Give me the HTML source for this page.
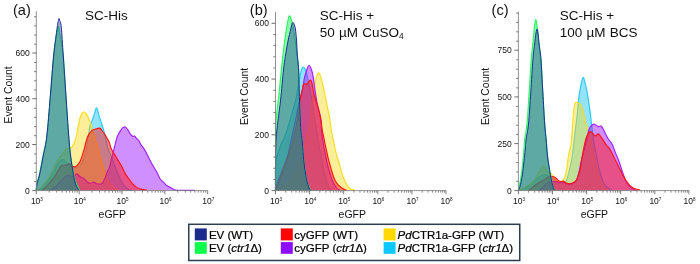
<!DOCTYPE html>
<html><head><meta charset="utf-8"><title>Flow cytometry eGFP histograms</title>
<style>html,body{margin:0;padding:0;background:#fff;}body{width:700px;height:264px;overflow:hidden;}svg{display:block;will-change:transform;}text{font-family:"Liberation Sans",sans-serif;}</style>
</head><body>
<svg width="700" height="264" viewBox="0 0 700 264">
<rect x="0" y="0" width="700" height="264" fill="#ffffff"/>
<g id="panelA">
<path d="M39.00,190.00C39.67,189.53 41.52,188.65 43.00,187.20C44.48,185.75 46.27,183.43 47.90,181.30C49.53,179.17 51.33,177.02 52.80,174.40C54.27,171.78 55.38,167.88 56.70,165.60C58.02,163.32 59.55,161.68 60.70,160.70C61.85,159.72 62.62,159.38 63.60,159.70C64.58,160.02 65.62,161.62 66.60,162.60C67.58,163.58 68.60,164.87 69.50,165.60C70.40,166.33 70.92,166.60 72.00,167.00C73.08,167.40 74.67,168.17 76.00,168.00C77.33,167.83 78.67,167.67 80.00,166.00C81.33,164.33 82.92,161.00 84.00,158.00C85.08,155.00 85.75,151.83 86.50,148.00C87.25,144.17 87.92,138.83 88.50,135.00C89.08,131.17 89.53,127.07 90.00,125.00C90.47,122.93 90.67,124.17 91.30,122.60C91.93,121.03 93.10,117.70 93.80,115.60C94.50,113.50 95.05,111.28 95.50,110.00C95.95,108.72 96.17,107.90 96.50,107.90C96.83,107.90 97.08,108.72 97.50,110.00C97.92,111.28 98.47,113.80 99.00,115.60C99.53,117.40 99.73,117.67 100.70,120.80C101.67,123.93 103.58,129.82 104.80,134.40C106.02,138.98 106.97,144.77 108.00,148.30C109.03,151.83 109.79,152.48 111.00,155.60C112.21,158.72 113.85,163.35 115.25,167.00C116.65,170.65 118.01,174.53 119.40,177.50C120.79,180.47 122.03,182.78 123.60,184.80C125.17,186.82 127.40,188.73 128.80,189.60C130.20,190.47 131.47,189.93 132.00,190.00L132.00,190.60 L39.00,190.60 Z" fill="#28c8f5" fill-opacity="0.50" stroke="none"/>
<path d="M39.00,190.00C39.67,189.53 41.52,188.65 43.00,187.20C44.48,185.75 46.27,183.43 47.90,181.30C49.53,179.17 51.33,177.02 52.80,174.40C54.27,171.78 55.38,167.88 56.70,165.60C58.02,163.32 59.55,161.68 60.70,160.70C61.85,159.72 62.62,159.38 63.60,159.70C64.58,160.02 65.62,161.62 66.60,162.60C67.58,163.58 68.60,164.87 69.50,165.60C70.40,166.33 70.92,166.60 72.00,167.00C73.08,167.40 74.67,168.17 76.00,168.00C77.33,167.83 78.67,167.67 80.00,166.00C81.33,164.33 82.92,161.00 84.00,158.00C85.08,155.00 85.75,151.83 86.50,148.00C87.25,144.17 87.92,138.83 88.50,135.00C89.08,131.17 89.53,127.07 90.00,125.00C90.47,122.93 90.67,124.17 91.30,122.60C91.93,121.03 93.10,117.70 93.80,115.60C94.50,113.50 95.05,111.28 95.50,110.00C95.95,108.72 96.17,107.90 96.50,107.90C96.83,107.90 97.08,108.72 97.50,110.00C97.92,111.28 98.47,113.80 99.00,115.60C99.53,117.40 99.73,117.67 100.70,120.80C101.67,123.93 103.58,129.82 104.80,134.40C106.02,138.98 106.97,144.77 108.00,148.30C109.03,151.83 109.79,152.48 111.00,155.60C112.21,158.72 113.85,163.35 115.25,167.00C116.65,170.65 118.01,174.53 119.40,177.50C120.79,180.47 122.03,182.78 123.60,184.80C125.17,186.82 127.40,188.73 128.80,189.60C130.20,190.47 131.47,189.93 132.00,190.00" fill="none" stroke="#28c8f5" stroke-width="1.15" stroke-linejoin="round" stroke-opacity="1"/>
<path d="M38.00,190.00C38.67,189.38 40.35,188.07 42.00,186.30C43.65,184.53 46.27,181.70 47.90,179.40C49.53,177.10 50.50,175.13 51.80,172.50C53.10,169.87 54.38,166.07 55.70,163.60C57.02,161.13 58.38,159.60 59.70,157.70C61.02,155.80 62.45,153.67 63.60,152.20C64.75,150.73 65.62,149.62 66.60,148.90C67.58,148.18 68.77,148.12 69.50,147.90C70.23,147.68 70.32,148.22 71.00,147.60C71.68,146.98 72.78,145.77 73.60,144.20C74.42,142.63 75.27,140.47 75.90,138.20C76.53,135.93 76.90,133.13 77.40,130.60C77.90,128.07 78.30,125.60 78.90,123.00C79.50,120.40 80.27,116.83 81.00,115.00C81.73,113.17 82.47,112.25 83.30,112.00C84.13,111.75 85.13,112.50 86.00,113.50C86.87,114.50 87.53,115.65 88.50,118.00C89.47,120.35 90.88,124.77 91.80,127.60C92.72,130.43 93.23,132.48 94.00,135.00C94.77,137.52 95.63,140.15 96.40,142.70C97.17,145.25 97.88,147.62 98.60,150.30C99.32,152.98 99.83,155.60 100.70,158.75C101.57,161.90 102.77,166.07 103.80,169.20C104.83,172.32 105.70,174.90 106.90,177.50C108.10,180.10 109.61,182.88 111.00,184.80C112.39,186.72 114.08,188.13 115.25,189.00C116.42,189.87 117.54,189.83 118.00,190.00L118.00,190.60 L38.00,190.60 Z" fill="#fadc1e" fill-opacity="0.45" stroke="none"/>
<path d="M38.00,190.00C38.67,189.38 40.35,188.07 42.00,186.30C43.65,184.53 46.27,181.70 47.90,179.40C49.53,177.10 50.50,175.13 51.80,172.50C53.10,169.87 54.38,166.07 55.70,163.60C57.02,161.13 58.38,159.60 59.70,157.70C61.02,155.80 62.45,153.67 63.60,152.20C64.75,150.73 65.62,149.62 66.60,148.90C67.58,148.18 68.77,148.12 69.50,147.90C70.23,147.68 70.32,148.22 71.00,147.60C71.68,146.98 72.78,145.77 73.60,144.20C74.42,142.63 75.27,140.47 75.90,138.20C76.53,135.93 76.90,133.13 77.40,130.60C77.90,128.07 78.30,125.60 78.90,123.00C79.50,120.40 80.27,116.83 81.00,115.00C81.73,113.17 82.47,112.25 83.30,112.00C84.13,111.75 85.13,112.50 86.00,113.50C86.87,114.50 87.53,115.65 88.50,118.00C89.47,120.35 90.88,124.77 91.80,127.60C92.72,130.43 93.23,132.48 94.00,135.00C94.77,137.52 95.63,140.15 96.40,142.70C97.17,145.25 97.88,147.62 98.60,150.30C99.32,152.98 99.83,155.60 100.70,158.75C101.57,161.90 102.77,166.07 103.80,169.20C104.83,172.32 105.70,174.90 106.90,177.50C108.10,180.10 109.61,182.88 111.00,184.80C112.39,186.72 114.08,188.13 115.25,189.00C116.42,189.87 117.54,189.83 118.00,190.00" fill="none" stroke="#fadc1e" stroke-width="1.15" stroke-linejoin="round" stroke-opacity="1"/>
<path d="M50.00,190.00C50.80,189.53 53.35,188.32 54.80,187.20C56.25,186.08 57.40,184.60 58.70,183.30C60.00,182.00 61.45,180.55 62.60,179.40C63.75,178.25 64.62,177.07 65.60,176.40C66.58,175.73 67.52,175.37 68.50,175.40C69.48,175.43 70.58,176.43 71.50,176.60C72.42,176.77 73.10,176.85 74.00,176.40C74.90,175.95 75.93,173.90 76.90,173.90C77.87,173.90 78.65,175.65 79.80,176.40C80.95,177.15 82.48,177.42 83.80,178.40C85.12,179.38 86.55,181.48 87.70,182.30C88.85,183.12 89.72,183.35 90.70,183.30C91.68,183.25 92.62,181.93 93.60,182.00C94.58,182.07 95.28,183.42 96.60,183.70C97.92,183.98 100.20,184.42 101.50,183.70C102.80,182.98 103.42,181.43 104.40,179.40C105.38,177.37 106.57,173.47 107.40,171.50C108.23,169.53 108.80,169.38 109.40,167.60C110.00,165.82 110.20,164.02 111.00,160.80C111.80,157.58 113.15,152.35 114.20,148.30C115.25,144.25 116.08,139.68 117.30,136.50C118.52,133.32 120.47,130.72 121.50,129.20C122.53,127.68 122.90,127.78 123.50,127.40C124.10,127.02 124.40,126.53 125.10,126.90C125.80,127.27 126.83,128.43 127.70,129.60C128.57,130.77 129.43,132.77 130.30,133.90C131.17,135.03 132.18,136.05 132.90,136.40C133.62,136.75 134.02,135.68 134.60,136.00C135.18,136.32 135.67,137.48 136.40,138.30C137.13,139.12 138.28,139.88 139.00,140.90C139.72,141.92 139.97,143.23 140.70,144.40C141.43,145.57 142.52,146.60 143.40,147.90C144.28,149.20 145.13,150.60 146.00,152.20C146.87,153.80 147.72,155.75 148.60,157.50C149.48,159.25 149.90,160.18 151.30,162.70C152.70,165.22 155.55,169.93 157.00,172.60C158.45,175.27 158.93,177.10 160.00,178.70C161.07,180.30 162.25,181.03 163.40,182.20C164.55,183.37 165.73,184.82 166.90,185.70C168.07,186.58 169.23,186.87 170.40,187.50C171.57,188.13 172.63,189.05 173.90,189.50C175.17,189.95 174.48,190.05 178.00,190.20C181.52,190.35 192.17,190.37 195.00,190.40L195.00,190.60 L50.00,190.60 Z" fill="#a020ff" fill-opacity="0.50" stroke="none"/>
<path d="M50.00,190.00C50.80,189.53 53.35,188.32 54.80,187.20C56.25,186.08 57.40,184.60 58.70,183.30C60.00,182.00 61.45,180.55 62.60,179.40C63.75,178.25 64.62,177.07 65.60,176.40C66.58,175.73 67.52,175.37 68.50,175.40C69.48,175.43 70.58,176.43 71.50,176.60C72.42,176.77 73.10,176.85 74.00,176.40C74.90,175.95 75.93,173.90 76.90,173.90C77.87,173.90 78.65,175.65 79.80,176.40C80.95,177.15 82.48,177.42 83.80,178.40C85.12,179.38 86.55,181.48 87.70,182.30C88.85,183.12 89.72,183.35 90.70,183.30C91.68,183.25 92.62,181.93 93.60,182.00C94.58,182.07 95.28,183.42 96.60,183.70C97.92,183.98 100.20,184.42 101.50,183.70C102.80,182.98 103.42,181.43 104.40,179.40C105.38,177.37 106.57,173.47 107.40,171.50C108.23,169.53 108.80,169.38 109.40,167.60C110.00,165.82 110.20,164.02 111.00,160.80C111.80,157.58 113.15,152.35 114.20,148.30C115.25,144.25 116.08,139.68 117.30,136.50C118.52,133.32 120.47,130.72 121.50,129.20C122.53,127.68 122.90,127.78 123.50,127.40C124.10,127.02 124.40,126.53 125.10,126.90C125.80,127.27 126.83,128.43 127.70,129.60C128.57,130.77 129.43,132.77 130.30,133.90C131.17,135.03 132.18,136.05 132.90,136.40C133.62,136.75 134.02,135.68 134.60,136.00C135.18,136.32 135.67,137.48 136.40,138.30C137.13,139.12 138.28,139.88 139.00,140.90C139.72,141.92 139.97,143.23 140.70,144.40C141.43,145.57 142.52,146.60 143.40,147.90C144.28,149.20 145.13,150.60 146.00,152.20C146.87,153.80 147.72,155.75 148.60,157.50C149.48,159.25 149.90,160.18 151.30,162.70C152.70,165.22 155.55,169.93 157.00,172.60C158.45,175.27 158.93,177.10 160.00,178.70C161.07,180.30 162.25,181.03 163.40,182.20C164.55,183.37 165.73,184.82 166.90,185.70C168.07,186.58 169.23,186.87 170.40,187.50C171.57,188.13 172.63,189.05 173.90,189.50C175.17,189.95 174.48,190.05 178.00,190.20C181.52,190.35 192.17,190.37 195.00,190.40" fill="none" stroke="#a020ff" stroke-width="1.15" stroke-linejoin="round" stroke-opacity="1"/>
<path d="M42.00,190.00C42.65,189.53 44.43,188.65 45.90,187.20C47.37,185.75 49.32,183.10 50.80,181.30C52.28,179.50 53.48,178.37 54.80,176.40C56.12,174.43 57.55,171.30 58.70,169.50C59.85,167.70 60.72,166.32 61.70,165.60C62.68,164.88 63.62,165.37 64.60,165.20C65.58,165.03 66.78,164.87 67.60,164.60C68.42,164.33 68.85,163.43 69.50,163.60C70.15,163.77 70.55,165.07 71.50,165.60C72.45,166.13 74.05,167.07 75.20,166.80C76.35,166.53 77.50,165.08 78.40,164.00C79.30,162.92 79.87,162.00 80.60,160.30C81.33,158.60 82.13,155.92 82.80,153.80C83.47,151.68 83.97,149.95 84.60,147.60C85.23,145.25 85.90,141.90 86.60,139.70C87.30,137.50 87.93,135.92 88.80,134.40C89.67,132.88 90.67,131.50 91.80,130.60C92.93,129.70 94.30,129.42 95.60,129.00C96.90,128.58 98.53,127.85 99.60,128.10C100.67,128.35 101.13,129.45 102.00,130.50C102.87,131.55 103.63,132.53 104.80,134.40C105.97,136.27 107.97,139.38 109.00,141.70C110.03,144.02 109.96,145.98 111.00,148.30C112.04,150.62 113.50,152.65 115.25,155.60C117.00,158.55 119.76,162.87 121.50,166.00C123.24,169.13 124.13,171.78 125.70,174.40C127.27,177.02 129.18,179.62 130.90,181.70C132.62,183.78 134.10,185.58 136.00,186.90C137.90,188.22 140.47,189.08 142.30,189.60C144.13,190.12 146.22,189.93 147.00,190.00L147.00,190.60 L42.00,190.60 Z" fill="#ff1414" fill-opacity="0.50" stroke="none"/>
<path d="M42.00,190.00C42.65,189.53 44.43,188.65 45.90,187.20C47.37,185.75 49.32,183.10 50.80,181.30C52.28,179.50 53.48,178.37 54.80,176.40C56.12,174.43 57.55,171.30 58.70,169.50C59.85,167.70 60.72,166.32 61.70,165.60C62.68,164.88 63.62,165.37 64.60,165.20C65.58,165.03 66.78,164.87 67.60,164.60C68.42,164.33 68.85,163.43 69.50,163.60C70.15,163.77 70.55,165.07 71.50,165.60C72.45,166.13 74.05,167.07 75.20,166.80C76.35,166.53 77.50,165.08 78.40,164.00C79.30,162.92 79.87,162.00 80.60,160.30C81.33,158.60 82.13,155.92 82.80,153.80C83.47,151.68 83.97,149.95 84.60,147.60C85.23,145.25 85.90,141.90 86.60,139.70C87.30,137.50 87.93,135.92 88.80,134.40C89.67,132.88 90.67,131.50 91.80,130.60C92.93,129.70 94.30,129.42 95.60,129.00C96.90,128.58 98.53,127.85 99.60,128.10C100.67,128.35 101.13,129.45 102.00,130.50C102.87,131.55 103.63,132.53 104.80,134.40C105.97,136.27 107.97,139.38 109.00,141.70C110.03,144.02 109.96,145.98 111.00,148.30C112.04,150.62 113.50,152.65 115.25,155.60C117.00,158.55 119.76,162.87 121.50,166.00C123.24,169.13 124.13,171.78 125.70,174.40C127.27,177.02 129.18,179.62 130.90,181.70C132.62,183.78 134.10,185.58 136.00,186.90C137.90,188.22 140.47,189.08 142.30,189.60C144.13,190.12 146.22,189.93 147.00,190.00" fill="none" stroke="#ff1414" stroke-width="1.15" stroke-linejoin="round" stroke-opacity="1"/>
<path d="M36.30,190.00C36.42,188.83 36.47,185.67 37.00,183.00C37.53,180.33 38.43,178.83 39.50,174.00C40.57,169.17 42.15,160.33 43.40,154.00C44.65,147.67 45.82,145.67 47.00,136.00C48.18,126.33 49.40,109.33 50.50,96.00C51.60,82.67 52.60,66.17 53.60,56.00C54.60,45.83 55.72,40.00 56.50,35.00C57.28,30.00 57.72,26.00 58.30,26.00C58.88,26.00 59.17,30.00 60.00,35.00C60.83,40.00 62.33,45.83 63.30,56.00C64.27,66.17 64.92,82.67 65.80,96.00C66.68,109.33 67.82,126.17 68.60,136.00C69.38,145.83 69.63,148.50 70.50,155.00C71.37,161.50 72.80,170.17 73.80,175.00C74.80,179.83 75.55,181.50 76.50,184.00C77.45,186.50 79.00,189.00 79.50,190.00L79.50,190.60 L36.30,190.60 Z" fill="#2bf562" fill-opacity="0.54" stroke="none"/>
<path d="M36.30,190.00C36.42,188.83 36.47,185.67 37.00,183.00C37.53,180.33 38.43,178.83 39.50,174.00C40.57,169.17 42.15,160.33 43.40,154.00C44.65,147.67 45.82,145.67 47.00,136.00C48.18,126.33 49.40,109.33 50.50,96.00C51.60,82.67 52.60,66.17 53.60,56.00C54.60,45.83 55.72,40.00 56.50,35.00C57.28,30.00 57.72,26.00 58.30,26.00C58.88,26.00 59.17,30.00 60.00,35.00C60.83,40.00 62.33,45.83 63.30,56.00C64.27,66.17 64.92,82.67 65.80,96.00C66.68,109.33 67.82,126.17 68.60,136.00C69.38,145.83 69.63,148.50 70.50,155.00C71.37,161.50 72.80,170.17 73.80,175.00C74.80,179.83 75.55,181.50 76.50,184.00C77.45,186.50 79.00,189.00 79.50,190.00" fill="none" stroke="#2bf562" stroke-width="1.15" stroke-linejoin="round" stroke-opacity="1"/>
<path d="M36.30,190.00C36.42,189.00 36.47,186.50 37.00,184.00C37.53,181.50 38.43,179.83 39.50,175.00C40.57,170.17 42.18,161.50 43.40,155.00C44.62,148.50 45.65,145.83 46.80,136.00C47.95,126.17 49.17,109.33 50.30,96.00C51.43,82.67 52.45,67.43 53.60,56.00C54.75,44.57 56.40,33.32 57.20,27.40C58.00,21.48 58.10,22.00 58.40,20.50C58.70,19.00 58.78,18.40 59.00,18.40C59.22,18.40 59.32,19.00 59.70,20.50C60.08,22.00 60.70,21.48 61.30,27.40C61.90,33.32 62.52,44.57 63.30,56.00C64.08,67.43 65.09,82.67 66.00,96.00C66.91,109.33 68.00,126.17 68.75,136.00C69.50,145.83 69.69,148.43 70.50,155.00C71.31,161.57 72.68,170.40 73.60,175.40C74.52,180.40 75.13,182.57 76.00,185.00C76.87,187.43 78.33,189.17 78.80,190.00L78.80,190.60 L36.30,190.60 Z" fill="#1c2f9a" fill-opacity="0.40" stroke="none"/>
<path d="M36.30,190.00C36.42,189.00 36.47,186.50 37.00,184.00C37.53,181.50 38.43,179.83 39.50,175.00C40.57,170.17 42.18,161.50 43.40,155.00C44.62,148.50 45.65,145.83 46.80,136.00C47.95,126.17 49.17,109.33 50.30,96.00C51.43,82.67 52.45,67.43 53.60,56.00C54.75,44.57 56.40,33.32 57.20,27.40C58.00,21.48 58.10,22.00 58.40,20.50C58.70,19.00 58.78,18.40 59.00,18.40C59.22,18.40 59.32,19.00 59.70,20.50C60.08,22.00 60.70,21.48 61.30,27.40C61.90,33.32 62.52,44.57 63.30,56.00C64.08,67.43 65.09,82.67 66.00,96.00C66.91,109.33 68.00,126.17 68.75,136.00C69.50,145.83 69.69,148.43 70.50,155.00C71.31,161.57 72.68,170.40 73.60,175.40C74.52,180.40 75.13,182.57 76.00,185.00C76.87,187.43 78.33,189.17 78.80,190.00" fill="none" stroke="#1c2f9a" stroke-width="1.0" stroke-linejoin="round" stroke-opacity="1"/>
<line x1="36.30" y1="11.20" x2="36.30" y2="191.10" stroke="#808080" stroke-width="0.85"/>
<line x1="35.80" y1="190.60" x2="207.70" y2="190.60" stroke="#808080" stroke-width="0.85"/>
<line x1="32.30" y1="190.60" x2="36.30" y2="190.60" stroke="#6e6e6e" stroke-width="1"/>
<text x="29.70" y="193.65" font-size="8.5" text-anchor="end" fill="#111">0</text>
<line x1="32.30" y1="144.50" x2="36.30" y2="144.50" stroke="#6e6e6e" stroke-width="1"/>
<text x="29.70" y="147.55" font-size="8.5" text-anchor="end" fill="#111">200</text>
<line x1="32.30" y1="98.70" x2="36.30" y2="98.70" stroke="#6e6e6e" stroke-width="1"/>
<text x="29.70" y="101.75" font-size="8.5" text-anchor="end" fill="#111">400</text>
<line x1="32.30" y1="53.00" x2="36.30" y2="53.00" stroke="#6e6e6e" stroke-width="1"/>
<text x="29.70" y="56.05" font-size="8.5" text-anchor="end" fill="#111">600</text>
<line x1="34.10" y1="181.45" x2="36.30" y2="181.45" stroke="#6e6e6e" stroke-width="0.9"/>
<line x1="34.10" y1="172.30" x2="36.30" y2="172.30" stroke="#6e6e6e" stroke-width="0.9"/>
<line x1="34.10" y1="163.15" x2="36.30" y2="163.15" stroke="#6e6e6e" stroke-width="0.9"/>
<line x1="34.10" y1="154.00" x2="36.30" y2="154.00" stroke="#6e6e6e" stroke-width="0.9"/>
<line x1="34.10" y1="135.70" x2="36.30" y2="135.70" stroke="#6e6e6e" stroke-width="0.9"/>
<line x1="34.10" y1="126.55" x2="36.30" y2="126.55" stroke="#6e6e6e" stroke-width="0.9"/>
<line x1="34.10" y1="117.40" x2="36.30" y2="117.40" stroke="#6e6e6e" stroke-width="0.9"/>
<line x1="34.10" y1="108.25" x2="36.30" y2="108.25" stroke="#6e6e6e" stroke-width="0.9"/>
<line x1="34.10" y1="89.95" x2="36.30" y2="89.95" stroke="#6e6e6e" stroke-width="0.9"/>
<line x1="34.10" y1="80.80" x2="36.30" y2="80.80" stroke="#6e6e6e" stroke-width="0.9"/>
<line x1="34.10" y1="71.65" x2="36.30" y2="71.65" stroke="#6e6e6e" stroke-width="0.9"/>
<line x1="34.10" y1="62.50" x2="36.30" y2="62.50" stroke="#6e6e6e" stroke-width="0.9"/>
<line x1="34.10" y1="44.20" x2="36.30" y2="44.20" stroke="#6e6e6e" stroke-width="0.9"/>
<line x1="34.10" y1="35.05" x2="36.30" y2="35.05" stroke="#6e6e6e" stroke-width="0.9"/>
<line x1="34.10" y1="25.90" x2="36.30" y2="25.90" stroke="#6e6e6e" stroke-width="0.9"/>
<line x1="34.10" y1="16.75" x2="36.30" y2="16.75" stroke="#6e6e6e" stroke-width="0.9"/>
<line x1="36.30" y1="190.60" x2="36.30" y2="194.30" stroke="#6e6e6e" stroke-width="0.9"/>
<text x="36.90" y="204.15" font-size="8.5" text-anchor="middle" fill="#111">10<tspan font-size="4.6" dy="-3.6">3</tspan></text>
<line x1="49.20" y1="190.60" x2="49.20" y2="192.70" stroke="#6e6e6e" stroke-width="0.8"/>
<line x1="56.74" y1="190.60" x2="56.74" y2="192.70" stroke="#6e6e6e" stroke-width="0.8"/>
<line x1="62.10" y1="190.60" x2="62.10" y2="192.70" stroke="#6e6e6e" stroke-width="0.8"/>
<line x1="66.25" y1="190.60" x2="66.25" y2="192.70" stroke="#6e6e6e" stroke-width="0.8"/>
<line x1="69.64" y1="190.60" x2="69.64" y2="192.70" stroke="#6e6e6e" stroke-width="0.8"/>
<line x1="72.51" y1="190.60" x2="72.51" y2="192.70" stroke="#6e6e6e" stroke-width="0.8"/>
<line x1="75.00" y1="190.60" x2="75.00" y2="192.70" stroke="#6e6e6e" stroke-width="0.8"/>
<line x1="77.19" y1="190.60" x2="77.19" y2="192.70" stroke="#6e6e6e" stroke-width="0.8"/>
<line x1="79.15" y1="190.60" x2="79.15" y2="194.30" stroke="#6e6e6e" stroke-width="0.9"/>
<text x="79.75" y="204.15" font-size="8.5" text-anchor="middle" fill="#111">10<tspan font-size="4.6" dy="-3.6">4</tspan></text>
<line x1="92.05" y1="190.60" x2="92.05" y2="192.70" stroke="#6e6e6e" stroke-width="0.8"/>
<line x1="99.59" y1="190.60" x2="99.59" y2="192.70" stroke="#6e6e6e" stroke-width="0.8"/>
<line x1="104.95" y1="190.60" x2="104.95" y2="192.70" stroke="#6e6e6e" stroke-width="0.8"/>
<line x1="109.10" y1="190.60" x2="109.10" y2="192.70" stroke="#6e6e6e" stroke-width="0.8"/>
<line x1="112.49" y1="190.60" x2="112.49" y2="192.70" stroke="#6e6e6e" stroke-width="0.8"/>
<line x1="115.36" y1="190.60" x2="115.36" y2="192.70" stroke="#6e6e6e" stroke-width="0.8"/>
<line x1="117.85" y1="190.60" x2="117.85" y2="192.70" stroke="#6e6e6e" stroke-width="0.8"/>
<line x1="120.04" y1="190.60" x2="120.04" y2="192.70" stroke="#6e6e6e" stroke-width="0.8"/>
<line x1="122.00" y1="190.60" x2="122.00" y2="194.30" stroke="#6e6e6e" stroke-width="0.9"/>
<text x="122.60" y="204.15" font-size="8.5" text-anchor="middle" fill="#111">10<tspan font-size="4.6" dy="-3.6">5</tspan></text>
<line x1="134.90" y1="190.60" x2="134.90" y2="192.70" stroke="#6e6e6e" stroke-width="0.8"/>
<line x1="142.44" y1="190.60" x2="142.44" y2="192.70" stroke="#6e6e6e" stroke-width="0.8"/>
<line x1="147.80" y1="190.60" x2="147.80" y2="192.70" stroke="#6e6e6e" stroke-width="0.8"/>
<line x1="151.95" y1="190.60" x2="151.95" y2="192.70" stroke="#6e6e6e" stroke-width="0.8"/>
<line x1="155.34" y1="190.60" x2="155.34" y2="192.70" stroke="#6e6e6e" stroke-width="0.8"/>
<line x1="158.21" y1="190.60" x2="158.21" y2="192.70" stroke="#6e6e6e" stroke-width="0.8"/>
<line x1="160.70" y1="190.60" x2="160.70" y2="192.70" stroke="#6e6e6e" stroke-width="0.8"/>
<line x1="162.89" y1="190.60" x2="162.89" y2="192.70" stroke="#6e6e6e" stroke-width="0.8"/>
<line x1="164.85" y1="190.60" x2="164.85" y2="194.30" stroke="#6e6e6e" stroke-width="0.9"/>
<text x="165.45" y="204.15" font-size="8.5" text-anchor="middle" fill="#111">10<tspan font-size="4.6" dy="-3.6">6</tspan></text>
<line x1="177.75" y1="190.60" x2="177.75" y2="192.70" stroke="#6e6e6e" stroke-width="0.8"/>
<line x1="185.29" y1="190.60" x2="185.29" y2="192.70" stroke="#6e6e6e" stroke-width="0.8"/>
<line x1="190.65" y1="190.60" x2="190.65" y2="192.70" stroke="#6e6e6e" stroke-width="0.8"/>
<line x1="194.80" y1="190.60" x2="194.80" y2="192.70" stroke="#6e6e6e" stroke-width="0.8"/>
<line x1="198.19" y1="190.60" x2="198.19" y2="192.70" stroke="#6e6e6e" stroke-width="0.8"/>
<line x1="201.06" y1="190.60" x2="201.06" y2="192.70" stroke="#6e6e6e" stroke-width="0.8"/>
<line x1="203.55" y1="190.60" x2="203.55" y2="192.70" stroke="#6e6e6e" stroke-width="0.8"/>
<line x1="205.74" y1="190.60" x2="205.74" y2="192.70" stroke="#6e6e6e" stroke-width="0.8"/>
<line x1="207.70" y1="190.60" x2="207.70" y2="194.30" stroke="#6e6e6e" stroke-width="0.9"/>
<text x="208.30" y="204.15" font-size="8.5" text-anchor="middle" fill="#111">10<tspan font-size="4.6" dy="-3.6">7</tspan></text>
</g>
<g id="panelB">
<path d="M275.50,190.00C275.50,186.33 275.42,172.92 275.50,168.00C275.58,163.08 275.48,163.25 276.00,160.50C276.52,157.75 277.70,154.33 278.60,151.50C279.50,148.67 280.42,145.83 281.40,143.50C282.38,141.17 283.28,140.65 284.50,137.50C285.72,134.35 287.47,128.63 288.70,124.60C289.93,120.57 290.73,117.40 291.90,113.30C293.07,109.20 294.52,105.28 295.70,100.00C296.88,94.72 298.03,86.68 299.00,81.60C299.97,76.52 300.77,71.92 301.50,69.50C302.23,67.08 302.73,67.02 303.40,67.10C304.07,67.18 304.73,67.85 305.50,70.00C306.27,72.15 307.08,75.83 308.00,80.00C308.92,84.17 310.00,89.17 311.00,95.00C312.00,100.83 313.08,109.17 314.00,115.00C314.92,120.83 315.77,125.50 316.50,130.00C317.23,134.50 317.48,136.75 318.40,142.00C319.32,147.25 320.78,155.43 322.00,161.50C323.22,167.57 324.48,173.98 325.70,178.40C326.92,182.82 328.25,185.98 329.30,188.00C330.35,190.02 331.55,190.08 332.00,190.50L332.00,190.60 L275.50,190.60 Z" fill="#28c8f5" fill-opacity="0.50" stroke="none"/>
<path d="M275.50,190.00C275.50,186.33 275.42,172.92 275.50,168.00C275.58,163.08 275.48,163.25 276.00,160.50C276.52,157.75 277.70,154.33 278.60,151.50C279.50,148.67 280.42,145.83 281.40,143.50C282.38,141.17 283.28,140.65 284.50,137.50C285.72,134.35 287.47,128.63 288.70,124.60C289.93,120.57 290.73,117.40 291.90,113.30C293.07,109.20 294.52,105.28 295.70,100.00C296.88,94.72 298.03,86.68 299.00,81.60C299.97,76.52 300.77,71.92 301.50,69.50C302.23,67.08 302.73,67.02 303.40,67.10C304.07,67.18 304.73,67.85 305.50,70.00C306.27,72.15 307.08,75.83 308.00,80.00C308.92,84.17 310.00,89.17 311.00,95.00C312.00,100.83 313.08,109.17 314.00,115.00C314.92,120.83 315.77,125.50 316.50,130.00C317.23,134.50 317.48,136.75 318.40,142.00C319.32,147.25 320.78,155.43 322.00,161.50C323.22,167.57 324.48,173.98 325.70,178.40C326.92,182.82 328.25,185.98 329.30,188.00C330.35,190.02 331.55,190.08 332.00,190.50" fill="none" stroke="#28c8f5" stroke-width="1.15" stroke-linejoin="round" stroke-opacity="1"/>
<path d="M278.00,190.00C278.83,189.50 281.00,188.67 283.00,187.00C285.00,185.33 287.67,183.17 290.00,180.00C292.33,176.83 295.00,172.17 297.00,168.00C299.00,163.83 300.50,159.67 302.00,155.00C303.50,150.33 304.80,144.50 306.00,140.00C307.20,135.50 308.33,133.00 309.20,128.00C310.07,123.00 310.48,116.00 311.20,110.00C311.92,104.00 312.87,96.33 313.50,92.00C314.13,87.67 314.52,86.47 315.00,84.00C315.48,81.53 315.93,78.87 316.40,77.20C316.87,75.53 317.35,74.67 317.80,74.00C318.25,73.33 318.48,72.33 319.10,73.20C319.72,74.07 320.48,75.37 321.50,79.20C322.52,83.03 324.10,90.95 325.20,96.20C326.30,101.45 327.33,106.90 328.10,110.70C328.87,114.50 329.27,115.78 329.80,119.00C330.33,122.22 330.70,126.38 331.30,130.00C331.90,133.62 332.83,137.87 333.40,140.70C333.97,143.53 334.17,144.62 334.70,147.00C335.23,149.38 336.02,152.83 336.60,155.00C337.18,157.17 337.55,157.80 338.20,160.00C338.85,162.20 339.78,165.70 340.50,168.20C341.22,170.70 341.72,172.73 342.50,175.00C343.28,177.27 344.28,179.87 345.20,181.80C346.12,183.73 346.97,185.35 348.00,186.60C349.03,187.85 350.27,188.68 351.40,189.30C352.53,189.92 354.23,190.13 354.80,190.30L354.80,190.60 L278.00,190.60 Z" fill="#fadc1e" fill-opacity="0.45" stroke="none"/>
<path d="M278.00,190.00C278.83,189.50 281.00,188.67 283.00,187.00C285.00,185.33 287.67,183.17 290.00,180.00C292.33,176.83 295.00,172.17 297.00,168.00C299.00,163.83 300.50,159.67 302.00,155.00C303.50,150.33 304.80,144.50 306.00,140.00C307.20,135.50 308.33,133.00 309.20,128.00C310.07,123.00 310.48,116.00 311.20,110.00C311.92,104.00 312.87,96.33 313.50,92.00C314.13,87.67 314.52,86.47 315.00,84.00C315.48,81.53 315.93,78.87 316.40,77.20C316.87,75.53 317.35,74.67 317.80,74.00C318.25,73.33 318.48,72.33 319.10,73.20C319.72,74.07 320.48,75.37 321.50,79.20C322.52,83.03 324.10,90.95 325.20,96.20C326.30,101.45 327.33,106.90 328.10,110.70C328.87,114.50 329.27,115.78 329.80,119.00C330.33,122.22 330.70,126.38 331.30,130.00C331.90,133.62 332.83,137.87 333.40,140.70C333.97,143.53 334.17,144.62 334.70,147.00C335.23,149.38 336.02,152.83 336.60,155.00C337.18,157.17 337.55,157.80 338.20,160.00C338.85,162.20 339.78,165.70 340.50,168.20C341.22,170.70 341.72,172.73 342.50,175.00C343.28,177.27 344.28,179.87 345.20,181.80C346.12,183.73 346.97,185.35 348.00,186.60C349.03,187.85 350.27,188.68 351.40,189.30C352.53,189.92 354.23,190.13 354.80,190.30" fill="none" stroke="#fadc1e" stroke-width="1.15" stroke-linejoin="round" stroke-opacity="1"/>
<path d="M275.50,190.00C275.50,189.50 275.33,187.83 275.50,187.00C275.67,186.17 275.75,186.83 276.50,185.00C277.25,183.17 278.75,179.17 280.00,176.00C281.25,172.83 282.73,169.33 284.00,166.00C285.27,162.67 286.52,159.83 287.60,156.00C288.68,152.17 289.60,147.08 290.50,143.00C291.40,138.92 292.13,135.50 293.00,131.50C293.87,127.50 294.78,123.30 295.70,119.00C296.62,114.70 297.68,109.37 298.50,105.70C299.32,102.03 299.93,99.62 300.60,97.00C301.27,94.38 301.87,93.18 302.50,90.00C303.13,86.82 303.82,80.80 304.40,77.90C304.98,75.00 305.47,74.33 306.00,72.60C306.53,70.87 307.08,68.73 307.60,67.50C308.12,66.27 308.60,65.20 309.10,65.20C309.60,65.20 310.07,66.27 310.60,67.50C311.13,68.73 311.83,70.87 312.30,72.60C312.77,74.33 312.95,75.00 313.40,77.90C313.85,80.80 314.37,85.75 315.00,90.00C315.63,94.25 316.23,98.57 317.20,103.40C318.17,108.23 320.00,113.77 320.80,119.00C321.60,124.23 321.18,128.53 322.00,134.80C322.82,141.07 324.48,150.53 325.70,156.60C326.92,162.67 328.08,166.97 329.30,171.20C330.52,175.43 331.78,179.20 333.00,182.00C334.22,184.80 335.43,186.58 336.60,188.00C337.77,189.42 339.43,190.08 340.00,190.50L340.00,190.60 L275.50,190.60 Z" fill="#a020ff" fill-opacity="0.50" stroke="none"/>
<path d="M275.50,190.00C275.50,189.50 275.33,187.83 275.50,187.00C275.67,186.17 275.75,186.83 276.50,185.00C277.25,183.17 278.75,179.17 280.00,176.00C281.25,172.83 282.73,169.33 284.00,166.00C285.27,162.67 286.52,159.83 287.60,156.00C288.68,152.17 289.60,147.08 290.50,143.00C291.40,138.92 292.13,135.50 293.00,131.50C293.87,127.50 294.78,123.30 295.70,119.00C296.62,114.70 297.68,109.37 298.50,105.70C299.32,102.03 299.93,99.62 300.60,97.00C301.27,94.38 301.87,93.18 302.50,90.00C303.13,86.82 303.82,80.80 304.40,77.90C304.98,75.00 305.47,74.33 306.00,72.60C306.53,70.87 307.08,68.73 307.60,67.50C308.12,66.27 308.60,65.20 309.10,65.20C309.60,65.20 310.07,66.27 310.60,67.50C311.13,68.73 311.83,70.87 312.30,72.60C312.77,74.33 312.95,75.00 313.40,77.90C313.85,80.80 314.37,85.75 315.00,90.00C315.63,94.25 316.23,98.57 317.20,103.40C318.17,108.23 320.00,113.77 320.80,119.00C321.60,124.23 321.18,128.53 322.00,134.80C322.82,141.07 324.48,150.53 325.70,156.60C326.92,162.67 328.08,166.97 329.30,171.20C330.52,175.43 331.78,179.20 333.00,182.00C334.22,184.80 335.43,186.58 336.60,188.00C337.77,189.42 339.43,190.08 340.00,190.50" fill="none" stroke="#a020ff" stroke-width="1.15" stroke-linejoin="round" stroke-opacity="1"/>
<path d="M275.50,190.00C275.67,189.67 275.75,189.83 276.50,188.00C277.25,186.17 278.75,182.33 280.00,179.00C281.25,175.67 282.67,171.67 284.00,168.00C285.33,164.33 286.67,160.83 288.00,157.00C289.33,153.17 290.92,148.83 292.00,145.00C293.08,141.17 293.67,137.83 294.50,134.00C295.33,130.17 296.25,125.88 297.00,122.00C297.75,118.12 298.45,114.60 299.00,110.70C299.55,106.80 299.73,102.22 300.30,98.60C300.87,94.98 301.90,91.30 302.40,89.00C302.90,86.70 302.88,85.68 303.30,84.80C303.72,83.92 304.37,83.78 304.90,83.70C305.43,83.62 305.97,84.47 306.50,84.30C307.03,84.13 307.57,83.32 308.10,82.70C308.63,82.08 309.27,81.05 309.70,80.60C310.13,80.15 310.38,79.83 310.70,80.00C311.02,80.17 311.33,80.80 311.60,81.60C311.87,82.40 312.05,83.40 312.30,84.80C312.55,86.20 312.72,88.10 313.10,90.00C313.48,91.90 313.75,93.15 314.60,96.20C315.45,99.25 317.17,104.50 318.20,108.30C319.23,112.10 320.13,115.38 320.80,119.00C321.47,122.62 321.77,127.23 322.20,130.00C322.63,132.77 322.85,132.93 323.40,135.60C323.95,138.27 324.85,142.90 325.50,146.00C326.15,149.10 326.78,151.87 327.30,154.20C327.82,156.53 328.00,157.67 328.60,160.00C329.20,162.33 330.17,165.70 330.90,168.20C331.63,170.70 332.25,172.85 333.00,175.00C333.75,177.15 334.50,179.40 335.40,181.10C336.30,182.80 337.22,183.95 338.40,185.20C339.58,186.45 341.13,187.77 342.50,188.60C343.87,189.43 345.92,189.93 346.60,190.20L346.60,190.60 L275.50,190.60 Z" fill="#ff1414" fill-opacity="0.50" stroke="none"/>
<path d="M275.50,190.00C275.67,189.67 275.75,189.83 276.50,188.00C277.25,186.17 278.75,182.33 280.00,179.00C281.25,175.67 282.67,171.67 284.00,168.00C285.33,164.33 286.67,160.83 288.00,157.00C289.33,153.17 290.92,148.83 292.00,145.00C293.08,141.17 293.67,137.83 294.50,134.00C295.33,130.17 296.25,125.88 297.00,122.00C297.75,118.12 298.45,114.60 299.00,110.70C299.55,106.80 299.73,102.22 300.30,98.60C300.87,94.98 301.90,91.30 302.40,89.00C302.90,86.70 302.88,85.68 303.30,84.80C303.72,83.92 304.37,83.78 304.90,83.70C305.43,83.62 305.97,84.47 306.50,84.30C307.03,84.13 307.57,83.32 308.10,82.70C308.63,82.08 309.27,81.05 309.70,80.60C310.13,80.15 310.38,79.83 310.70,80.00C311.02,80.17 311.33,80.80 311.60,81.60C311.87,82.40 312.05,83.40 312.30,84.80C312.55,86.20 312.72,88.10 313.10,90.00C313.48,91.90 313.75,93.15 314.60,96.20C315.45,99.25 317.17,104.50 318.20,108.30C319.23,112.10 320.13,115.38 320.80,119.00C321.47,122.62 321.77,127.23 322.20,130.00C322.63,132.77 322.85,132.93 323.40,135.60C323.95,138.27 324.85,142.90 325.50,146.00C326.15,149.10 326.78,151.87 327.30,154.20C327.82,156.53 328.00,157.67 328.60,160.00C329.20,162.33 330.17,165.70 330.90,168.20C331.63,170.70 332.25,172.85 333.00,175.00C333.75,177.15 334.50,179.40 335.40,181.10C336.30,182.80 337.22,183.95 338.40,185.20C339.58,186.45 341.13,187.77 342.50,188.60C343.87,189.43 345.92,189.93 346.60,190.20" fill="none" stroke="#ff1414" stroke-width="1.15" stroke-linejoin="round" stroke-opacity="1"/>
<path d="M275.50,190.00C275.50,180.17 275.38,142.83 275.50,131.00C275.62,119.17 275.55,125.83 276.20,119.00C276.85,112.17 278.53,98.33 279.40,90.00C280.27,81.67 280.80,74.83 281.40,69.00C282.00,63.17 282.43,59.83 283.00,55.00C283.57,50.17 284.13,45.00 284.80,40.00C285.47,35.00 286.38,28.67 287.00,25.00C287.62,21.33 288.10,19.52 288.50,18.00C288.90,16.48 289.05,15.98 289.40,15.90C289.75,15.82 290.08,16.15 290.60,17.50C291.12,18.85 291.93,21.58 292.50,24.00C293.07,26.42 293.50,29.00 294.00,32.00C294.50,35.00 294.98,38.17 295.50,42.00C296.02,45.83 296.58,50.50 297.10,55.00C297.62,59.50 298.20,61.50 298.60,69.00C299.00,76.50 299.22,91.67 299.50,100.00C299.78,108.33 300.12,114.00 300.30,119.00C300.48,124.00 300.27,126.17 300.60,130.00C300.93,133.83 301.75,136.75 302.30,142.00C302.85,147.25 303.23,155.43 303.90,161.50C304.57,167.57 305.28,173.77 306.30,178.40C307.32,183.03 309.22,187.28 310.00,189.30C310.78,191.32 310.83,190.30 311.00,190.50L311.00,190.60 L275.50,190.60 Z" fill="#2bf562" fill-opacity="0.54" stroke="none"/>
<path d="M275.50,190.00C275.50,180.17 275.38,142.83 275.50,131.00C275.62,119.17 275.55,125.83 276.20,119.00C276.85,112.17 278.53,98.33 279.40,90.00C280.27,81.67 280.80,74.83 281.40,69.00C282.00,63.17 282.43,59.83 283.00,55.00C283.57,50.17 284.13,45.00 284.80,40.00C285.47,35.00 286.38,28.67 287.00,25.00C287.62,21.33 288.10,19.52 288.50,18.00C288.90,16.48 289.05,15.98 289.40,15.90C289.75,15.82 290.08,16.15 290.60,17.50C291.12,18.85 291.93,21.58 292.50,24.00C293.07,26.42 293.50,29.00 294.00,32.00C294.50,35.00 294.98,38.17 295.50,42.00C296.02,45.83 296.58,50.50 297.10,55.00C297.62,59.50 298.20,61.50 298.60,69.00C299.00,76.50 299.22,91.67 299.50,100.00C299.78,108.33 300.12,114.00 300.30,119.00C300.48,124.00 300.27,126.17 300.60,130.00C300.93,133.83 301.75,136.75 302.30,142.00C302.85,147.25 303.23,155.43 303.90,161.50C304.57,167.57 305.28,173.77 306.30,178.40C307.32,183.03 309.22,187.28 310.00,189.30C310.78,191.32 310.83,190.30 311.00,190.50" fill="none" stroke="#2bf562" stroke-width="1.15" stroke-linejoin="round" stroke-opacity="1"/>
<path d="M275.50,190.00C275.50,185.83 275.42,173.33 275.50,165.00C275.58,156.67 275.55,147.67 276.00,140.00C276.45,132.33 277.43,125.67 278.20,119.00C278.97,112.33 279.70,108.33 280.60,100.00C281.50,91.67 282.77,76.50 283.60,69.00C284.43,61.50 284.87,59.67 285.60,55.00C286.33,50.33 287.13,45.33 288.00,41.00C288.87,36.67 290.13,31.83 290.80,29.00C291.47,26.17 291.63,25.10 292.00,24.00C292.37,22.90 292.67,22.40 293.00,22.40C293.33,22.40 293.60,22.90 294.00,24.00C294.40,25.10 294.97,26.17 295.40,29.00C295.83,31.83 296.28,36.67 296.60,41.00C296.92,45.33 296.97,50.33 297.30,55.00C297.63,59.67 298.23,61.50 298.60,69.00C298.97,76.50 299.22,91.67 299.50,100.00C299.78,108.33 300.08,114.00 300.30,119.00C300.52,124.00 300.47,126.17 300.80,130.00C301.13,133.83 301.78,136.75 302.30,142.00C302.82,147.25 303.23,155.43 303.90,161.50C304.57,167.57 305.37,173.82 306.30,178.40C307.23,182.98 308.72,186.98 309.50,189.00C310.28,191.02 310.75,190.25 311.00,190.50L311.00,190.60 L275.50,190.60 Z" fill="#1c2f9a" fill-opacity="0.40" stroke="none"/>
<path d="M275.50,190.00C275.50,185.83 275.42,173.33 275.50,165.00C275.58,156.67 275.55,147.67 276.00,140.00C276.45,132.33 277.43,125.67 278.20,119.00C278.97,112.33 279.70,108.33 280.60,100.00C281.50,91.67 282.77,76.50 283.60,69.00C284.43,61.50 284.87,59.67 285.60,55.00C286.33,50.33 287.13,45.33 288.00,41.00C288.87,36.67 290.13,31.83 290.80,29.00C291.47,26.17 291.63,25.10 292.00,24.00C292.37,22.90 292.67,22.40 293.00,22.40C293.33,22.40 293.60,22.90 294.00,24.00C294.40,25.10 294.97,26.17 295.40,29.00C295.83,31.83 296.28,36.67 296.60,41.00C296.92,45.33 296.97,50.33 297.30,55.00C297.63,59.67 298.23,61.50 298.60,69.00C298.97,76.50 299.22,91.67 299.50,100.00C299.78,108.33 300.08,114.00 300.30,119.00C300.52,124.00 300.47,126.17 300.80,130.00C301.13,133.83 301.78,136.75 302.30,142.00C302.82,147.25 303.23,155.43 303.90,161.50C304.57,167.57 305.37,173.82 306.30,178.40C307.23,182.98 308.72,186.98 309.50,189.00C310.28,191.02 310.75,190.25 311.00,190.50" fill="none" stroke="#1c2f9a" stroke-width="1.0" stroke-linejoin="round" stroke-opacity="1"/>
<line x1="275.50" y1="12.00" x2="275.50" y2="191.10" stroke="#808080" stroke-width="0.85"/>
<line x1="275.00" y1="190.60" x2="446.20" y2="190.60" stroke="#808080" stroke-width="0.85"/>
<line x1="271.50" y1="190.60" x2="275.50" y2="190.60" stroke="#6e6e6e" stroke-width="1"/>
<text x="268.90" y="193.65" font-size="8.5" text-anchor="end" fill="#111">0</text>
<line x1="271.50" y1="134.80" x2="275.50" y2="134.80" stroke="#6e6e6e" stroke-width="1"/>
<text x="268.90" y="137.85" font-size="8.5" text-anchor="end" fill="#111">200</text>
<line x1="271.50" y1="79.10" x2="275.50" y2="79.10" stroke="#6e6e6e" stroke-width="1"/>
<text x="268.90" y="82.15" font-size="8.5" text-anchor="end" fill="#111">400</text>
<line x1="271.50" y1="23.30" x2="275.50" y2="23.30" stroke="#6e6e6e" stroke-width="1"/>
<text x="268.90" y="26.35" font-size="8.5" text-anchor="end" fill="#111">600</text>
<line x1="273.30" y1="179.45" x2="275.50" y2="179.45" stroke="#6e6e6e" stroke-width="0.9"/>
<line x1="273.30" y1="168.30" x2="275.50" y2="168.30" stroke="#6e6e6e" stroke-width="0.9"/>
<line x1="273.30" y1="157.15" x2="275.50" y2="157.15" stroke="#6e6e6e" stroke-width="0.9"/>
<line x1="273.30" y1="146.00" x2="275.50" y2="146.00" stroke="#6e6e6e" stroke-width="0.9"/>
<line x1="273.30" y1="123.70" x2="275.50" y2="123.70" stroke="#6e6e6e" stroke-width="0.9"/>
<line x1="273.30" y1="112.55" x2="275.50" y2="112.55" stroke="#6e6e6e" stroke-width="0.9"/>
<line x1="273.30" y1="101.40" x2="275.50" y2="101.40" stroke="#6e6e6e" stroke-width="0.9"/>
<line x1="273.30" y1="90.25" x2="275.50" y2="90.25" stroke="#6e6e6e" stroke-width="0.9"/>
<line x1="273.30" y1="67.95" x2="275.50" y2="67.95" stroke="#6e6e6e" stroke-width="0.9"/>
<line x1="273.30" y1="56.80" x2="275.50" y2="56.80" stroke="#6e6e6e" stroke-width="0.9"/>
<line x1="273.30" y1="45.65" x2="275.50" y2="45.65" stroke="#6e6e6e" stroke-width="0.9"/>
<line x1="273.30" y1="34.50" x2="275.50" y2="34.50" stroke="#6e6e6e" stroke-width="0.9"/>
<line x1="275.50" y1="190.60" x2="275.50" y2="194.30" stroke="#6e6e6e" stroke-width="0.9"/>
<text x="276.10" y="204.15" font-size="8.5" text-anchor="middle" fill="#111">10<tspan font-size="4.6" dy="-3.6">3</tspan></text>
<line x1="285.77" y1="190.60" x2="285.77" y2="192.70" stroke="#6e6e6e" stroke-width="0.8"/>
<line x1="291.77" y1="190.60" x2="291.77" y2="192.70" stroke="#6e6e6e" stroke-width="0.8"/>
<line x1="296.03" y1="190.60" x2="296.03" y2="192.70" stroke="#6e6e6e" stroke-width="0.8"/>
<line x1="299.33" y1="190.60" x2="299.33" y2="192.70" stroke="#6e6e6e" stroke-width="0.8"/>
<line x1="302.03" y1="190.60" x2="302.03" y2="192.70" stroke="#6e6e6e" stroke-width="0.8"/>
<line x1="304.32" y1="190.60" x2="304.32" y2="192.70" stroke="#6e6e6e" stroke-width="0.8"/>
<line x1="306.30" y1="190.60" x2="306.30" y2="192.70" stroke="#6e6e6e" stroke-width="0.8"/>
<line x1="308.04" y1="190.60" x2="308.04" y2="192.70" stroke="#6e6e6e" stroke-width="0.8"/>
<line x1="309.60" y1="190.60" x2="309.60" y2="194.30" stroke="#6e6e6e" stroke-width="0.9"/>
<text x="310.20" y="204.15" font-size="8.5" text-anchor="middle" fill="#111">10<tspan font-size="4.6" dy="-3.6">4</tspan></text>
<line x1="319.87" y1="190.60" x2="319.87" y2="192.70" stroke="#6e6e6e" stroke-width="0.8"/>
<line x1="325.87" y1="190.60" x2="325.87" y2="192.70" stroke="#6e6e6e" stroke-width="0.8"/>
<line x1="330.13" y1="190.60" x2="330.13" y2="192.70" stroke="#6e6e6e" stroke-width="0.8"/>
<line x1="333.43" y1="190.60" x2="333.43" y2="192.70" stroke="#6e6e6e" stroke-width="0.8"/>
<line x1="336.13" y1="190.60" x2="336.13" y2="192.70" stroke="#6e6e6e" stroke-width="0.8"/>
<line x1="338.42" y1="190.60" x2="338.42" y2="192.70" stroke="#6e6e6e" stroke-width="0.8"/>
<line x1="340.40" y1="190.60" x2="340.40" y2="192.70" stroke="#6e6e6e" stroke-width="0.8"/>
<line x1="342.14" y1="190.60" x2="342.14" y2="192.70" stroke="#6e6e6e" stroke-width="0.8"/>
<line x1="343.70" y1="190.60" x2="343.70" y2="194.30" stroke="#6e6e6e" stroke-width="0.9"/>
<text x="344.30" y="204.15" font-size="8.5" text-anchor="middle" fill="#111">10<tspan font-size="4.6" dy="-3.6">5</tspan></text>
<line x1="353.97" y1="190.60" x2="353.97" y2="192.70" stroke="#6e6e6e" stroke-width="0.8"/>
<line x1="359.97" y1="190.60" x2="359.97" y2="192.70" stroke="#6e6e6e" stroke-width="0.8"/>
<line x1="364.23" y1="190.60" x2="364.23" y2="192.70" stroke="#6e6e6e" stroke-width="0.8"/>
<line x1="367.53" y1="190.60" x2="367.53" y2="192.70" stroke="#6e6e6e" stroke-width="0.8"/>
<line x1="370.23" y1="190.60" x2="370.23" y2="192.70" stroke="#6e6e6e" stroke-width="0.8"/>
<line x1="372.52" y1="190.60" x2="372.52" y2="192.70" stroke="#6e6e6e" stroke-width="0.8"/>
<line x1="374.50" y1="190.60" x2="374.50" y2="192.70" stroke="#6e6e6e" stroke-width="0.8"/>
<line x1="376.24" y1="190.60" x2="376.24" y2="192.70" stroke="#6e6e6e" stroke-width="0.8"/>
<line x1="377.80" y1="190.60" x2="377.80" y2="194.30" stroke="#6e6e6e" stroke-width="0.9"/>
<text x="378.40" y="204.15" font-size="8.5" text-anchor="middle" fill="#111">10<tspan font-size="4.6" dy="-3.6">6</tspan></text>
<line x1="388.07" y1="190.60" x2="388.07" y2="192.70" stroke="#6e6e6e" stroke-width="0.8"/>
<line x1="394.07" y1="190.60" x2="394.07" y2="192.70" stroke="#6e6e6e" stroke-width="0.8"/>
<line x1="398.33" y1="190.60" x2="398.33" y2="192.70" stroke="#6e6e6e" stroke-width="0.8"/>
<line x1="401.63" y1="190.60" x2="401.63" y2="192.70" stroke="#6e6e6e" stroke-width="0.8"/>
<line x1="404.33" y1="190.60" x2="404.33" y2="192.70" stroke="#6e6e6e" stroke-width="0.8"/>
<line x1="406.62" y1="190.60" x2="406.62" y2="192.70" stroke="#6e6e6e" stroke-width="0.8"/>
<line x1="408.60" y1="190.60" x2="408.60" y2="192.70" stroke="#6e6e6e" stroke-width="0.8"/>
<line x1="410.34" y1="190.60" x2="410.34" y2="192.70" stroke="#6e6e6e" stroke-width="0.8"/>
<line x1="411.90" y1="190.60" x2="411.90" y2="194.30" stroke="#6e6e6e" stroke-width="0.9"/>
<text x="412.50" y="204.15" font-size="8.5" text-anchor="middle" fill="#111">10<tspan font-size="4.6" dy="-3.6">7</tspan></text>
<line x1="422.17" y1="190.60" x2="422.17" y2="192.70" stroke="#6e6e6e" stroke-width="0.8"/>
<line x1="428.17" y1="190.60" x2="428.17" y2="192.70" stroke="#6e6e6e" stroke-width="0.8"/>
<line x1="432.43" y1="190.60" x2="432.43" y2="192.70" stroke="#6e6e6e" stroke-width="0.8"/>
<line x1="435.73" y1="190.60" x2="435.73" y2="192.70" stroke="#6e6e6e" stroke-width="0.8"/>
<line x1="438.43" y1="190.60" x2="438.43" y2="192.70" stroke="#6e6e6e" stroke-width="0.8"/>
<line x1="440.72" y1="190.60" x2="440.72" y2="192.70" stroke="#6e6e6e" stroke-width="0.8"/>
<line x1="442.70" y1="190.60" x2="442.70" y2="192.70" stroke="#6e6e6e" stroke-width="0.8"/>
<line x1="444.44" y1="190.60" x2="444.44" y2="192.70" stroke="#6e6e6e" stroke-width="0.8"/>
<line x1="446.00" y1="190.60" x2="446.00" y2="194.30" stroke="#6e6e6e" stroke-width="0.9"/>
<text x="446.60" y="204.15" font-size="8.5" text-anchor="middle" fill="#111">10<tspan font-size="4.6" dy="-3.6">8</tspan></text>
</g>
<g id="panelC">
<path d="M522.00,190.30C522.83,189.75 525.00,188.55 527.00,187.00C529.00,185.45 531.83,182.75 534.00,181.00C536.17,179.25 538.33,177.55 540.00,176.50C541.67,175.45 542.67,174.87 544.00,174.70C545.33,174.53 546.50,174.78 548.00,175.50C549.50,176.22 551.33,177.83 553.00,179.00C554.67,180.17 556.33,181.83 558.00,182.50C559.67,183.17 561.62,183.29 563.00,183.00C564.38,182.71 565.37,182.38 566.30,180.75C567.23,179.12 567.85,175.99 568.60,173.20C569.35,170.41 570.17,167.03 570.80,164.00C571.43,160.97 571.82,159.17 572.40,155.00C572.98,150.83 573.45,146.17 574.30,139.00C575.15,131.83 576.85,118.10 577.50,112.00C578.15,105.90 577.68,106.63 578.20,102.40C578.72,98.17 579.80,90.77 580.60,86.60C581.40,82.43 582.20,77.80 583.00,77.40C583.80,77.00 584.60,81.05 585.40,84.20C586.20,87.35 586.98,91.45 587.80,96.30C588.62,101.15 589.68,108.68 590.30,113.30C590.92,117.92 590.87,119.01 591.50,124.00C592.13,128.99 593.14,137.25 594.10,143.25C595.06,149.25 596.27,155.21 597.25,160.00C598.23,164.79 598.88,168.03 600.00,172.00C601.12,175.97 602.70,181.20 604.00,183.80C605.30,186.40 606.53,186.57 607.80,187.60C609.07,188.63 610.97,189.60 611.60,190.00L611.60,190.60 L522.00,190.60 Z" fill="#28c8f5" fill-opacity="0.50" stroke="none"/>
<path d="M522.00,190.30C522.83,189.75 525.00,188.55 527.00,187.00C529.00,185.45 531.83,182.75 534.00,181.00C536.17,179.25 538.33,177.55 540.00,176.50C541.67,175.45 542.67,174.87 544.00,174.70C545.33,174.53 546.50,174.78 548.00,175.50C549.50,176.22 551.33,177.83 553.00,179.00C554.67,180.17 556.33,181.83 558.00,182.50C559.67,183.17 561.62,183.29 563.00,183.00C564.38,182.71 565.37,182.38 566.30,180.75C567.23,179.12 567.85,175.99 568.60,173.20C569.35,170.41 570.17,167.03 570.80,164.00C571.43,160.97 571.82,159.17 572.40,155.00C572.98,150.83 573.45,146.17 574.30,139.00C575.15,131.83 576.85,118.10 577.50,112.00C578.15,105.90 577.68,106.63 578.20,102.40C578.72,98.17 579.80,90.77 580.60,86.60C581.40,82.43 582.20,77.80 583.00,77.40C583.80,77.00 584.60,81.05 585.40,84.20C586.20,87.35 586.98,91.45 587.80,96.30C588.62,101.15 589.68,108.68 590.30,113.30C590.92,117.92 590.87,119.01 591.50,124.00C592.13,128.99 593.14,137.25 594.10,143.25C595.06,149.25 596.27,155.21 597.25,160.00C598.23,164.79 598.88,168.03 600.00,172.00C601.12,175.97 602.70,181.20 604.00,183.80C605.30,186.40 606.53,186.57 607.80,187.60C609.07,188.63 610.97,189.60 611.60,190.00" fill="none" stroke="#28c8f5" stroke-width="1.15" stroke-linejoin="round" stroke-opacity="1"/>
<path d="M519.00,190.30C519.63,189.95 521.37,188.95 522.80,188.20C524.23,187.45 525.88,186.87 527.60,185.80C529.32,184.73 531.52,183.52 533.10,181.80C534.68,180.08 535.87,177.47 537.10,175.50C538.33,173.53 539.42,171.58 540.50,170.00C541.58,168.42 542.48,165.83 543.60,166.00C544.73,166.17 546.37,169.80 547.25,171.00C548.13,172.20 548.24,172.78 548.90,173.20C549.56,173.62 550.32,172.75 551.20,173.50C552.08,174.25 553.23,176.45 554.20,177.70C555.17,178.95 556.03,180.20 557.00,181.00C557.97,181.80 558.95,182.67 560.00,182.50C561.05,182.33 562.38,181.30 563.30,180.00C564.22,178.70 564.88,176.87 565.50,174.70C566.12,172.53 566.48,170.28 567.00,167.00C567.52,163.72 567.90,158.96 568.60,155.00C569.30,151.04 570.53,148.42 571.20,143.25C571.87,138.08 572.13,129.81 572.60,124.00C573.07,118.19 573.48,112.00 574.00,108.40C574.52,104.80 574.60,103.00 575.70,102.40C576.80,101.80 579.33,103.20 580.60,104.80C581.87,106.40 582.40,108.80 583.30,112.00C584.20,115.20 585.07,120.53 586.00,124.00C586.93,127.47 587.90,128.90 588.90,132.80C589.90,136.70 590.95,142.53 592.00,147.40C593.05,152.27 594.20,157.57 595.20,162.00C596.20,166.43 597.03,170.50 598.00,174.00C598.97,177.50 599.83,180.50 601.00,183.00C602.17,185.50 603.83,187.78 605.00,189.00C606.17,190.22 607.50,190.08 608.00,190.30L608.00,190.60 L519.00,190.60 Z" fill="#fadc1e" fill-opacity="0.45" stroke="none"/>
<path d="M519.00,190.30C519.63,189.95 521.37,188.95 522.80,188.20C524.23,187.45 525.88,186.87 527.60,185.80C529.32,184.73 531.52,183.52 533.10,181.80C534.68,180.08 535.87,177.47 537.10,175.50C538.33,173.53 539.42,171.58 540.50,170.00C541.58,168.42 542.48,165.83 543.60,166.00C544.73,166.17 546.37,169.80 547.25,171.00C548.13,172.20 548.24,172.78 548.90,173.20C549.56,173.62 550.32,172.75 551.20,173.50C552.08,174.25 553.23,176.45 554.20,177.70C555.17,178.95 556.03,180.20 557.00,181.00C557.97,181.80 558.95,182.67 560.00,182.50C561.05,182.33 562.38,181.30 563.30,180.00C564.22,178.70 564.88,176.87 565.50,174.70C566.12,172.53 566.48,170.28 567.00,167.00C567.52,163.72 567.90,158.96 568.60,155.00C569.30,151.04 570.53,148.42 571.20,143.25C571.87,138.08 572.13,129.81 572.60,124.00C573.07,118.19 573.48,112.00 574.00,108.40C574.52,104.80 574.60,103.00 575.70,102.40C576.80,101.80 579.33,103.20 580.60,104.80C581.87,106.40 582.40,108.80 583.30,112.00C584.20,115.20 585.07,120.53 586.00,124.00C586.93,127.47 587.90,128.90 588.90,132.80C589.90,136.70 590.95,142.53 592.00,147.40C593.05,152.27 594.20,157.57 595.20,162.00C596.20,166.43 597.03,170.50 598.00,174.00C598.97,177.50 599.83,180.50 601.00,183.00C602.17,185.50 603.83,187.78 605.00,189.00C606.17,190.22 607.50,190.08 608.00,190.30" fill="none" stroke="#fadc1e" stroke-width="1.15" stroke-linejoin="round" stroke-opacity="1"/>
<path d="M538.00,190.30C538.42,190.17 539.07,190.58 540.50,189.50C541.93,188.42 545.08,185.05 546.60,183.80C548.12,182.55 548.33,182.38 549.60,182.00C550.87,181.62 552.68,181.45 554.20,181.50C555.72,181.55 557.18,182.17 558.70,182.30C560.22,182.43 562.03,182.05 563.30,182.30C564.57,182.55 564.78,183.55 566.30,183.80C567.82,184.05 570.75,184.31 572.40,183.80C574.05,183.29 575.10,182.72 576.20,180.75C577.30,178.78 578.12,175.46 579.00,172.00C579.88,168.54 580.37,164.79 581.50,160.00C582.63,155.21 584.57,148.30 585.80,143.25C587.03,138.20 587.95,132.66 588.90,129.70C589.85,126.74 590.63,126.43 591.50,125.50C592.37,124.57 592.97,123.92 594.10,124.10C595.23,124.28 597.08,126.25 598.30,126.60C599.52,126.95 600.37,125.33 601.40,126.20C602.43,127.07 603.45,129.83 604.50,131.80C605.55,133.77 606.65,136.27 607.70,138.00C608.75,139.73 610.00,141.03 610.80,142.20C611.60,143.37 611.73,143.27 612.50,145.00C613.27,146.73 614.28,149.77 615.40,152.60C616.52,155.43 617.93,158.53 619.20,162.00C620.47,165.47 621.90,170.23 623.00,173.40C624.10,176.57 624.70,178.78 625.80,181.00C626.90,183.22 628.33,185.28 629.60,186.70C630.87,188.12 632.17,188.90 633.40,189.50C634.63,190.10 636.40,190.17 637.00,190.30L637.00,190.60 L538.00,190.60 Z" fill="#a020ff" fill-opacity="0.50" stroke="none"/>
<path d="M538.00,190.30C538.42,190.17 539.07,190.58 540.50,189.50C541.93,188.42 545.08,185.05 546.60,183.80C548.12,182.55 548.33,182.38 549.60,182.00C550.87,181.62 552.68,181.45 554.20,181.50C555.72,181.55 557.18,182.17 558.70,182.30C560.22,182.43 562.03,182.05 563.30,182.30C564.57,182.55 564.78,183.55 566.30,183.80C567.82,184.05 570.75,184.31 572.40,183.80C574.05,183.29 575.10,182.72 576.20,180.75C577.30,178.78 578.12,175.46 579.00,172.00C579.88,168.54 580.37,164.79 581.50,160.00C582.63,155.21 584.57,148.30 585.80,143.25C587.03,138.20 587.95,132.66 588.90,129.70C589.85,126.74 590.63,126.43 591.50,125.50C592.37,124.57 592.97,123.92 594.10,124.10C595.23,124.28 597.08,126.25 598.30,126.60C599.52,126.95 600.37,125.33 601.40,126.20C602.43,127.07 603.45,129.83 604.50,131.80C605.55,133.77 606.65,136.27 607.70,138.00C608.75,139.73 610.00,141.03 610.80,142.20C611.60,143.37 611.73,143.27 612.50,145.00C613.27,146.73 614.28,149.77 615.40,152.60C616.52,155.43 617.93,158.53 619.20,162.00C620.47,165.47 621.90,170.23 623.00,173.40C624.10,176.57 624.70,178.78 625.80,181.00C626.90,183.22 628.33,185.28 629.60,186.70C630.87,188.12 632.17,188.90 633.40,189.50C634.63,190.10 636.40,190.17 637.00,190.30" fill="none" stroke="#a020ff" stroke-width="1.15" stroke-linejoin="round" stroke-opacity="1"/>
<path d="M528.00,190.30C528.43,190.08 529.27,189.97 530.60,189.00C531.93,188.03 533.83,186.00 536.00,184.50C538.17,183.00 541.60,181.25 543.60,180.00C545.60,178.75 546.73,177.63 548.00,177.00C549.27,176.37 550.17,176.20 551.20,176.20C552.23,176.20 553.32,176.62 554.20,177.00C555.08,177.38 555.75,177.88 556.50,178.50C557.25,179.12 557.95,180.25 558.70,180.75C559.45,181.25 560.23,181.46 561.00,181.50C561.77,181.54 562.42,180.75 563.30,181.00C564.18,181.25 565.18,182.53 566.30,183.00C567.42,183.47 568.73,183.92 570.00,183.80C571.27,183.68 572.75,183.07 573.90,182.30C575.05,181.53 575.88,181.25 576.90,179.20C577.92,177.15 579.03,174.25 580.00,170.00C580.97,165.75 581.73,158.85 582.70,153.70C583.67,148.55 584.77,142.58 585.80,139.10C586.83,135.62 588.03,134.02 588.90,132.80C589.77,131.58 589.95,131.27 591.00,131.80C592.05,132.33 593.98,135.65 595.20,136.00C596.42,136.35 597.08,133.38 598.30,133.90C599.52,134.42 601.12,137.20 602.50,139.10C603.88,141.00 605.40,143.68 606.60,145.30C607.80,146.92 608.40,146.64 609.70,148.80C611.00,150.96 612.98,155.42 614.40,158.25C615.82,161.08 616.93,163.28 618.20,165.80C619.47,168.33 620.73,171.03 622.00,173.40C623.27,175.77 624.53,178.03 625.80,180.00C627.07,181.97 628.18,183.77 629.60,185.20C631.02,186.63 632.57,187.80 634.30,188.60C636.03,189.40 639.05,189.77 640.00,190.00L640.00,190.60 L528.00,190.60 Z" fill="#ff1414" fill-opacity="0.50" stroke="none"/>
<path d="M528.00,190.30C528.43,190.08 529.27,189.97 530.60,189.00C531.93,188.03 533.83,186.00 536.00,184.50C538.17,183.00 541.60,181.25 543.60,180.00C545.60,178.75 546.73,177.63 548.00,177.00C549.27,176.37 550.17,176.20 551.20,176.20C552.23,176.20 553.32,176.62 554.20,177.00C555.08,177.38 555.75,177.88 556.50,178.50C557.25,179.12 557.95,180.25 558.70,180.75C559.45,181.25 560.23,181.46 561.00,181.50C561.77,181.54 562.42,180.75 563.30,181.00C564.18,181.25 565.18,182.53 566.30,183.00C567.42,183.47 568.73,183.92 570.00,183.80C571.27,183.68 572.75,183.07 573.90,182.30C575.05,181.53 575.88,181.25 576.90,179.20C577.92,177.15 579.03,174.25 580.00,170.00C580.97,165.75 581.73,158.85 582.70,153.70C583.67,148.55 584.77,142.58 585.80,139.10C586.83,135.62 588.03,134.02 588.90,132.80C589.77,131.58 589.95,131.27 591.00,131.80C592.05,132.33 593.98,135.65 595.20,136.00C596.42,136.35 597.08,133.38 598.30,133.90C599.52,134.42 601.12,137.20 602.50,139.10C603.88,141.00 605.40,143.68 606.60,145.30C607.80,146.92 608.40,146.64 609.70,148.80C611.00,150.96 612.98,155.42 614.40,158.25C615.82,161.08 616.93,163.28 618.20,165.80C619.47,168.33 620.73,171.03 622.00,173.40C623.27,175.77 624.53,178.03 625.80,180.00C627.07,181.97 628.18,183.77 629.60,185.20C631.02,186.63 632.57,187.80 634.30,188.60C636.03,189.40 639.05,189.77 640.00,190.00" fill="none" stroke="#ff1414" stroke-width="1.15" stroke-linejoin="round" stroke-opacity="1"/>
<path d="M518.40,190.00C518.45,189.75 518.35,190.17 518.70,188.50C519.05,186.83 519.87,183.92 520.50,180.00C521.13,176.08 521.93,170.00 522.50,165.00C523.07,160.00 523.55,154.17 523.90,150.00C524.25,145.83 524.08,144.33 524.60,140.00C525.12,135.67 526.23,132.00 527.00,124.00C527.77,116.00 528.50,102.67 529.20,92.00C529.90,81.33 530.57,68.33 531.20,60.00C531.83,51.67 532.50,47.17 533.00,42.00C533.50,36.83 533.83,32.50 534.20,29.00C534.57,25.50 534.95,22.53 535.20,21.00C535.45,19.47 535.52,19.80 535.70,19.80C535.88,19.80 536.02,19.47 536.30,21.00C536.58,22.53 536.98,25.50 537.40,29.00C537.82,32.50 538.20,36.83 538.80,42.00C539.40,47.17 540.33,51.67 541.00,60.00C541.67,68.33 542.18,81.33 542.80,92.00C543.42,102.67 544.13,116.00 544.70,124.00C545.27,132.00 545.75,134.83 546.20,140.00C546.65,145.17 546.95,150.73 547.40,155.00C547.85,159.27 548.40,162.32 548.90,165.60C549.40,168.88 549.90,171.92 550.40,174.70C550.90,177.48 551.40,180.08 551.90,182.30C552.40,184.52 552.92,186.68 553.40,188.00C553.88,189.32 554.57,189.83 554.80,190.20L554.80,190.60 L518.40,190.60 Z" fill="#2bf562" fill-opacity="0.54" stroke="none"/>
<path d="M518.40,190.00C518.45,189.75 518.35,190.17 518.70,188.50C519.05,186.83 519.87,183.92 520.50,180.00C521.13,176.08 521.93,170.00 522.50,165.00C523.07,160.00 523.55,154.17 523.90,150.00C524.25,145.83 524.08,144.33 524.60,140.00C525.12,135.67 526.23,132.00 527.00,124.00C527.77,116.00 528.50,102.67 529.20,92.00C529.90,81.33 530.57,68.33 531.20,60.00C531.83,51.67 532.50,47.17 533.00,42.00C533.50,36.83 533.83,32.50 534.20,29.00C534.57,25.50 534.95,22.53 535.20,21.00C535.45,19.47 535.52,19.80 535.70,19.80C535.88,19.80 536.02,19.47 536.30,21.00C536.58,22.53 536.98,25.50 537.40,29.00C537.82,32.50 538.20,36.83 538.80,42.00C539.40,47.17 540.33,51.67 541.00,60.00C541.67,68.33 542.18,81.33 542.80,92.00C543.42,102.67 544.13,116.00 544.70,124.00C545.27,132.00 545.75,134.83 546.20,140.00C546.65,145.17 546.95,150.73 547.40,155.00C547.85,159.27 548.40,162.32 548.90,165.60C549.40,168.88 549.90,171.92 550.40,174.70C550.90,177.48 551.40,180.08 551.90,182.30C552.40,184.52 552.92,186.68 553.40,188.00C553.88,189.32 554.57,189.83 554.80,190.20" fill="none" stroke="#2bf562" stroke-width="1.15" stroke-linejoin="round" stroke-opacity="1"/>
<path d="M518.60,190.00C518.82,189.50 519.25,189.68 519.90,187.00C520.55,184.32 521.62,180.07 522.50,173.90C523.38,167.73 524.62,155.65 525.20,150.00C525.78,144.35 525.45,144.33 526.00,140.00C526.55,135.67 527.70,132.00 528.50,124.00C529.30,116.00 530.07,102.67 530.80,92.00C531.53,81.33 532.28,67.83 532.90,60.00C533.52,52.17 533.98,49.50 534.50,45.00C535.02,40.50 535.58,35.67 536.00,33.00C536.42,30.33 536.67,29.00 537.00,29.00C537.33,29.00 537.63,30.33 538.00,33.00C538.37,35.67 538.70,40.50 539.20,45.00C539.70,49.50 540.40,52.17 541.00,60.00C541.60,67.83 542.18,81.33 542.80,92.00C543.42,102.67 544.13,116.00 544.70,124.00C545.27,132.00 545.75,134.83 546.20,140.00C546.65,145.17 546.95,150.73 547.40,155.00C547.85,159.27 548.40,162.32 548.90,165.60C549.40,168.88 549.90,171.92 550.40,174.70C550.90,177.48 551.40,180.08 551.90,182.30C552.40,184.52 552.92,186.68 553.40,188.00C553.88,189.32 554.57,189.83 554.80,190.20L554.80,190.60 L518.60,190.60 Z" fill="#1c2f9a" fill-opacity="0.40" stroke="none"/>
<path d="M518.60,190.00C518.82,189.50 519.25,189.68 519.90,187.00C520.55,184.32 521.62,180.07 522.50,173.90C523.38,167.73 524.62,155.65 525.20,150.00C525.78,144.35 525.45,144.33 526.00,140.00C526.55,135.67 527.70,132.00 528.50,124.00C529.30,116.00 530.07,102.67 530.80,92.00C531.53,81.33 532.28,67.83 532.90,60.00C533.52,52.17 533.98,49.50 534.50,45.00C535.02,40.50 535.58,35.67 536.00,33.00C536.42,30.33 536.67,29.00 537.00,29.00C537.33,29.00 537.63,30.33 538.00,33.00C538.37,35.67 538.70,40.50 539.20,45.00C539.70,49.50 540.40,52.17 541.00,60.00C541.60,67.83 542.18,81.33 542.80,92.00C543.42,102.67 544.13,116.00 544.70,124.00C545.27,132.00 545.75,134.83 546.20,140.00C546.65,145.17 546.95,150.73 547.40,155.00C547.85,159.27 548.40,162.32 548.90,165.60C549.40,168.88 549.90,171.92 550.40,174.70C550.90,177.48 551.40,180.08 551.90,182.30C552.40,184.52 552.92,186.68 553.40,188.00C553.88,189.32 554.57,189.83 554.80,190.20" fill="none" stroke="#1c2f9a" stroke-width="1.0" stroke-linejoin="round" stroke-opacity="1"/>
<line x1="518.40" y1="11.60" x2="518.40" y2="191.10" stroke="#808080" stroke-width="0.85"/>
<line x1="517.90" y1="190.60" x2="689.20" y2="190.60" stroke="#808080" stroke-width="0.85"/>
<line x1="514.40" y1="190.60" x2="518.40" y2="190.60" stroke="#6e6e6e" stroke-width="1"/>
<text x="511.80" y="193.65" font-size="8.5" text-anchor="end" fill="#111">0</text>
<line x1="514.40" y1="143.60" x2="518.40" y2="143.60" stroke="#6e6e6e" stroke-width="1"/>
<text x="511.80" y="146.65" font-size="8.5" text-anchor="end" fill="#111">250</text>
<line x1="514.40" y1="96.90" x2="518.40" y2="96.90" stroke="#6e6e6e" stroke-width="1"/>
<text x="511.80" y="99.95" font-size="8.5" text-anchor="end" fill="#111">500</text>
<line x1="514.40" y1="50.20" x2="518.40" y2="50.20" stroke="#6e6e6e" stroke-width="1"/>
<text x="511.80" y="53.25" font-size="8.5" text-anchor="end" fill="#111">750</text>
<line x1="516.20" y1="181.26" x2="518.40" y2="181.26" stroke="#6e6e6e" stroke-width="0.9"/>
<line x1="516.20" y1="171.92" x2="518.40" y2="171.92" stroke="#6e6e6e" stroke-width="0.9"/>
<line x1="516.20" y1="162.58" x2="518.40" y2="162.58" stroke="#6e6e6e" stroke-width="0.9"/>
<line x1="516.20" y1="153.24" x2="518.40" y2="153.24" stroke="#6e6e6e" stroke-width="0.9"/>
<line x1="516.20" y1="134.56" x2="518.40" y2="134.56" stroke="#6e6e6e" stroke-width="0.9"/>
<line x1="516.20" y1="125.22" x2="518.40" y2="125.22" stroke="#6e6e6e" stroke-width="0.9"/>
<line x1="516.20" y1="115.88" x2="518.40" y2="115.88" stroke="#6e6e6e" stroke-width="0.9"/>
<line x1="516.20" y1="106.54" x2="518.40" y2="106.54" stroke="#6e6e6e" stroke-width="0.9"/>
<line x1="516.20" y1="87.86" x2="518.40" y2="87.86" stroke="#6e6e6e" stroke-width="0.9"/>
<line x1="516.20" y1="78.52" x2="518.40" y2="78.52" stroke="#6e6e6e" stroke-width="0.9"/>
<line x1="516.20" y1="69.18" x2="518.40" y2="69.18" stroke="#6e6e6e" stroke-width="0.9"/>
<line x1="516.20" y1="59.84" x2="518.40" y2="59.84" stroke="#6e6e6e" stroke-width="0.9"/>
<line x1="516.20" y1="41.16" x2="518.40" y2="41.16" stroke="#6e6e6e" stroke-width="0.9"/>
<line x1="516.20" y1="31.82" x2="518.40" y2="31.82" stroke="#6e6e6e" stroke-width="0.9"/>
<line x1="516.20" y1="22.48" x2="518.40" y2="22.48" stroke="#6e6e6e" stroke-width="0.9"/>
<line x1="516.20" y1="13.14" x2="518.40" y2="13.14" stroke="#6e6e6e" stroke-width="0.9"/>
<line x1="518.40" y1="190.60" x2="518.40" y2="194.30" stroke="#6e6e6e" stroke-width="0.9"/>
<text x="519.00" y="204.15" font-size="8.5" text-anchor="middle" fill="#111">10<tspan font-size="4.6" dy="-3.6">3</tspan></text>
<line x1="528.67" y1="190.60" x2="528.67" y2="192.70" stroke="#6e6e6e" stroke-width="0.8"/>
<line x1="534.67" y1="190.60" x2="534.67" y2="192.70" stroke="#6e6e6e" stroke-width="0.8"/>
<line x1="538.93" y1="190.60" x2="538.93" y2="192.70" stroke="#6e6e6e" stroke-width="0.8"/>
<line x1="542.23" y1="190.60" x2="542.23" y2="192.70" stroke="#6e6e6e" stroke-width="0.8"/>
<line x1="544.93" y1="190.60" x2="544.93" y2="192.70" stroke="#6e6e6e" stroke-width="0.8"/>
<line x1="547.22" y1="190.60" x2="547.22" y2="192.70" stroke="#6e6e6e" stroke-width="0.8"/>
<line x1="549.20" y1="190.60" x2="549.20" y2="192.70" stroke="#6e6e6e" stroke-width="0.8"/>
<line x1="550.94" y1="190.60" x2="550.94" y2="192.70" stroke="#6e6e6e" stroke-width="0.8"/>
<line x1="552.50" y1="190.60" x2="552.50" y2="194.30" stroke="#6e6e6e" stroke-width="0.9"/>
<text x="553.10" y="204.15" font-size="8.5" text-anchor="middle" fill="#111">10<tspan font-size="4.6" dy="-3.6">4</tspan></text>
<line x1="562.77" y1="190.60" x2="562.77" y2="192.70" stroke="#6e6e6e" stroke-width="0.8"/>
<line x1="568.77" y1="190.60" x2="568.77" y2="192.70" stroke="#6e6e6e" stroke-width="0.8"/>
<line x1="573.03" y1="190.60" x2="573.03" y2="192.70" stroke="#6e6e6e" stroke-width="0.8"/>
<line x1="576.33" y1="190.60" x2="576.33" y2="192.70" stroke="#6e6e6e" stroke-width="0.8"/>
<line x1="579.03" y1="190.60" x2="579.03" y2="192.70" stroke="#6e6e6e" stroke-width="0.8"/>
<line x1="581.32" y1="190.60" x2="581.32" y2="192.70" stroke="#6e6e6e" stroke-width="0.8"/>
<line x1="583.30" y1="190.60" x2="583.30" y2="192.70" stroke="#6e6e6e" stroke-width="0.8"/>
<line x1="585.04" y1="190.60" x2="585.04" y2="192.70" stroke="#6e6e6e" stroke-width="0.8"/>
<line x1="586.60" y1="190.60" x2="586.60" y2="194.30" stroke="#6e6e6e" stroke-width="0.9"/>
<text x="587.20" y="204.15" font-size="8.5" text-anchor="middle" fill="#111">10<tspan font-size="4.6" dy="-3.6">5</tspan></text>
<line x1="596.87" y1="190.60" x2="596.87" y2="192.70" stroke="#6e6e6e" stroke-width="0.8"/>
<line x1="602.87" y1="190.60" x2="602.87" y2="192.70" stroke="#6e6e6e" stroke-width="0.8"/>
<line x1="607.13" y1="190.60" x2="607.13" y2="192.70" stroke="#6e6e6e" stroke-width="0.8"/>
<line x1="610.43" y1="190.60" x2="610.43" y2="192.70" stroke="#6e6e6e" stroke-width="0.8"/>
<line x1="613.13" y1="190.60" x2="613.13" y2="192.70" stroke="#6e6e6e" stroke-width="0.8"/>
<line x1="615.42" y1="190.60" x2="615.42" y2="192.70" stroke="#6e6e6e" stroke-width="0.8"/>
<line x1="617.40" y1="190.60" x2="617.40" y2="192.70" stroke="#6e6e6e" stroke-width="0.8"/>
<line x1="619.14" y1="190.60" x2="619.14" y2="192.70" stroke="#6e6e6e" stroke-width="0.8"/>
<line x1="620.70" y1="190.60" x2="620.70" y2="194.30" stroke="#6e6e6e" stroke-width="0.9"/>
<text x="621.30" y="204.15" font-size="8.5" text-anchor="middle" fill="#111">10<tspan font-size="4.6" dy="-3.6">6</tspan></text>
<line x1="630.97" y1="190.60" x2="630.97" y2="192.70" stroke="#6e6e6e" stroke-width="0.8"/>
<line x1="636.97" y1="190.60" x2="636.97" y2="192.70" stroke="#6e6e6e" stroke-width="0.8"/>
<line x1="641.23" y1="190.60" x2="641.23" y2="192.70" stroke="#6e6e6e" stroke-width="0.8"/>
<line x1="644.53" y1="190.60" x2="644.53" y2="192.70" stroke="#6e6e6e" stroke-width="0.8"/>
<line x1="647.23" y1="190.60" x2="647.23" y2="192.70" stroke="#6e6e6e" stroke-width="0.8"/>
<line x1="649.52" y1="190.60" x2="649.52" y2="192.70" stroke="#6e6e6e" stroke-width="0.8"/>
<line x1="651.50" y1="190.60" x2="651.50" y2="192.70" stroke="#6e6e6e" stroke-width="0.8"/>
<line x1="653.24" y1="190.60" x2="653.24" y2="192.70" stroke="#6e6e6e" stroke-width="0.8"/>
<line x1="654.80" y1="190.60" x2="654.80" y2="194.30" stroke="#6e6e6e" stroke-width="0.9"/>
<text x="655.40" y="204.15" font-size="8.5" text-anchor="middle" fill="#111">10<tspan font-size="4.6" dy="-3.6">7</tspan></text>
<line x1="665.07" y1="190.60" x2="665.07" y2="192.70" stroke="#6e6e6e" stroke-width="0.8"/>
<line x1="671.07" y1="190.60" x2="671.07" y2="192.70" stroke="#6e6e6e" stroke-width="0.8"/>
<line x1="675.33" y1="190.60" x2="675.33" y2="192.70" stroke="#6e6e6e" stroke-width="0.8"/>
<line x1="678.63" y1="190.60" x2="678.63" y2="192.70" stroke="#6e6e6e" stroke-width="0.8"/>
<line x1="681.33" y1="190.60" x2="681.33" y2="192.70" stroke="#6e6e6e" stroke-width="0.8"/>
<line x1="683.62" y1="190.60" x2="683.62" y2="192.70" stroke="#6e6e6e" stroke-width="0.8"/>
<line x1="685.60" y1="190.60" x2="685.60" y2="192.70" stroke="#6e6e6e" stroke-width="0.8"/>
<line x1="687.34" y1="190.60" x2="687.34" y2="192.70" stroke="#6e6e6e" stroke-width="0.8"/>
<line x1="688.90" y1="190.60" x2="688.90" y2="194.30" stroke="#6e6e6e" stroke-width="0.9"/>
<text x="689.50" y="204.15" font-size="8.5" text-anchor="middle" fill="#111">10<tspan font-size="4.6" dy="-3.6">8</tspan></text>
</g>
<text x="13.0" y="15.2" font-size="14.6" fill="#111">(a)</text>
<text x="249.8" y="15.2" font-size="14.6" fill="#111">(b)</text>
<text x="491.6" y="15.2" font-size="14.6" fill="#111">(c)</text>
<text x="85.0" y="20.3" font-size="13.5" fill="#111">SC-His</text>
<text x="319.7" y="20.0" font-size="13.5" fill="#111">SC-His +</text>
<text x="319.7" y="36.6" font-size="13.5" fill="#111" word-spacing="0.5">50 µM CuSO<tspan font-size="8.5" dy="2.6">4</tspan></text>
<text x="559.7" y="20.0" font-size="13.5" fill="#111">SC-His +</text>
<text x="559.7" y="36.6" font-size="13.5" fill="#111" word-spacing="0.5">100 µM BCS</text>
<text transform="translate(11.80,94.90) rotate(-90)" font-size="10.4" text-anchor="middle" fill="#111">Event Count</text>
<text transform="translate(248.00,96.50) rotate(-90)" font-size="10.4" text-anchor="middle" fill="#111">Event Count</text>
<text transform="translate(489.30,96.50) rotate(-90)" font-size="10.4" text-anchor="middle" fill="#111">Event Count</text>
<text x="112.30" y="217.7" font-size="10.5" text-anchor="middle" fill="#111">eGFP</text>
<text x="352.30" y="217.7" font-size="10.5" text-anchor="middle" fill="#111">eGFP</text>
<text x="594.40" y="217.7" font-size="10.5" text-anchor="middle" fill="#111">eGFP</text>
<rect x="188.75" y="224.3" width="331.0" height="36.2" fill="#ffffff" stroke="#2c3e50" stroke-width="1.5"/>
<rect x="194.80" y="228.40" width="12.00" height="12.00" fill="#1b2b8e"/>
<text x="208.90" y="238.50" font-size="11.5" fill="#000" stroke="#000" stroke-width="0.22">EV (WT)</text>
<rect x="194.80" y="242.10" width="12.00" height="11.70" fill="#0cff4a"/>
<text x="208.90" y="251.80" font-size="11.5" fill="#000" stroke="#000" stroke-width="0.22">EV (<tspan font-style="italic">ctr1</tspan>Δ)</text>
<rect x="280.80" y="228.40" width="12.00" height="12.00" fill="#ff0606"/>
<text x="294.30" y="238.50" font-size="11.5" fill="#000" stroke="#000" stroke-width="0.22">cyGFP (WT)</text>
<rect x="280.80" y="242.10" width="12.00" height="11.70" fill="#8e0cff"/>
<text x="294.30" y="251.80" font-size="11.5" fill="#000" stroke="#000" stroke-width="0.22">cyGFP (<tspan font-style="italic">ctr1</tspan>Δ)</text>
<rect x="383.60" y="228.40" width="12.00" height="12.00" fill="#ffd806"/>
<text x="397.60" y="238.50" font-size="11.5" fill="#000" stroke="#000" stroke-width="0.22"><tspan font-style="italic">Pd</tspan>CTR1a-GFP (WT)</text>
<rect x="383.60" y="242.10" width="12.00" height="11.70" fill="#0cc8ff"/>
<text x="397.60" y="251.80" font-size="11.5" fill="#000" stroke="#000" stroke-width="0.22"><tspan font-style="italic">Pd</tspan>CTR1a-GFP (<tspan font-style="italic">ctr1</tspan>Δ)</text>
</svg>
</body></html>
